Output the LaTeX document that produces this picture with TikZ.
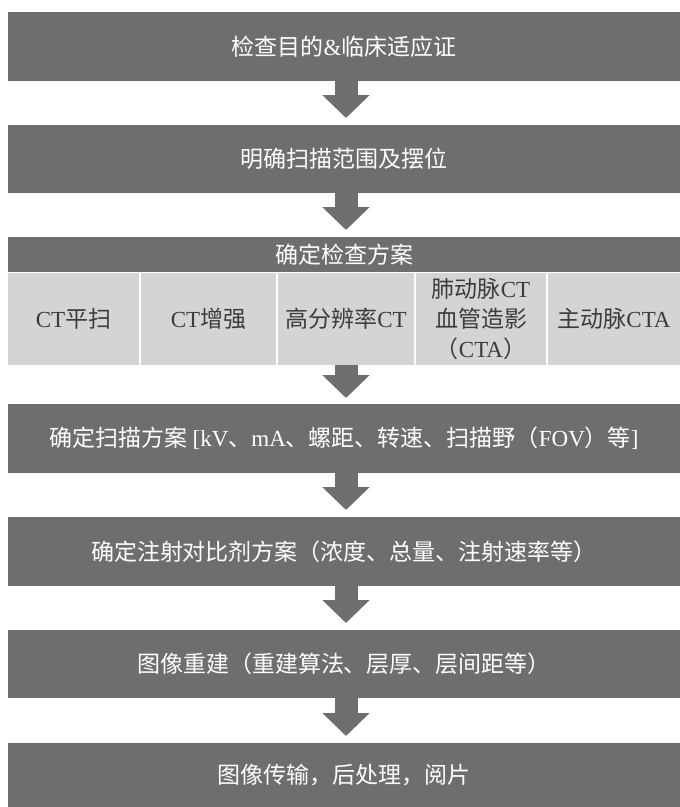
\documentclass[tikz,border=0pt]{standalone}
\usepackage{fontspec}
\setmainfont{Noto Sans CJK SC}
\newfontfamily\latf{Liberation Serif}
\usetikzlibrary{arrows.meta}
\definecolor{boxdark}{RGB}{110,110,110}
\definecolor{celllight}{RGB}{212,212,212}
\definecolor{celltext}{RGB}{60,60,60}
\newcommand{\La}[1]{{\latf #1}}
\begin{document}
\begin{tikzpicture}[x=1pt,y=-1pt,
  darkbox/.style={fill=boxdark, text=white, inner sep=0pt, outer sep=0pt,
    anchor=north west, minimum width=672pt,
    font=\fontsize{23}{28}\selectfont},
  cellbox/.style={fill=celllight, text=celltext, inner sep=0pt, outer sep=0pt,
    anchor=north west, minimum height=92pt, align=center,
    font=\fontsize{23}{30}\selectfont},
  flow/.style={draw=boxdark, line width=23pt,
    -{Triangle[width=46pt,length=23pt]}}
]
\useasboundingbox (0,0) rectangle (680,807);
\fill[white] (0,0) rectangle (680,807);
\coordinate (ax) at (346,0);

\node[darkbox, minimum height=69pt] (b1) at (8,12) {检查目的\La{\&}临床适应证};
\node[darkbox, minimum height=68pt] (b2) at (8,125) {明确扫描范围及摆位};
\node[darkbox, minimum height=35pt] (b3) at (8,237) {确定检查方案};

\node[cellbox, minimum width=131pt] (c1) at (8,273) {\La{CT}平扫};
\node[cellbox, minimum width=135pt] (c2) at (141,273) {\La{CT}增强};
\node[cellbox, minimum width=136pt] (c3) at (278,273) {高分辨率\La{CT}};
\node[cellbox, minimum width=130pt] (c4) at (416,273) {肺动脉\La{CT}\\血管造影\\（\La{CTA}）};
\node[cellbox, minimum width=132pt] (c5) at (548,273) {主动脉\La{CTA}};

\node[darkbox, minimum height=69pt] (b4) at (8,404) {确定扫描方案 \La{[kV}、\La{mA}、螺距、转速、扫描野（\La{FOV}）等\La{]}};
\node[darkbox, minimum height=69pt] (b5) at (8,517) {确定注射对比剂方案（浓度、总量、注射速率等）};
\node[darkbox, minimum height=68pt] (b6) at (8,630) {图像重建（重建算法、层厚、层间距等）};
\node[darkbox, minimum height=64pt] (b7) at (8,743) {图像传输，后处理，阅片};

\draw[flow] (b1.south -| ax) -- ([yshift=7pt]b2.north -| ax);
\draw[flow] (b2.south -| ax) -- ([yshift=7pt]b3.north -| ax);
\draw[flow] (c3.south -| ax) -- ([yshift=6pt]b4.north -| ax);
\draw[flow] (b4.south -| ax) -- ([yshift=7pt]b5.north -| ax);
\draw[flow] (b5.south -| ax) -- ([yshift=7pt]b6.north -| ax);
\draw[flow] (b6.south -| ax) -- ([yshift=7pt]b7.north -| ax);
\end{tikzpicture}
\end{document}
